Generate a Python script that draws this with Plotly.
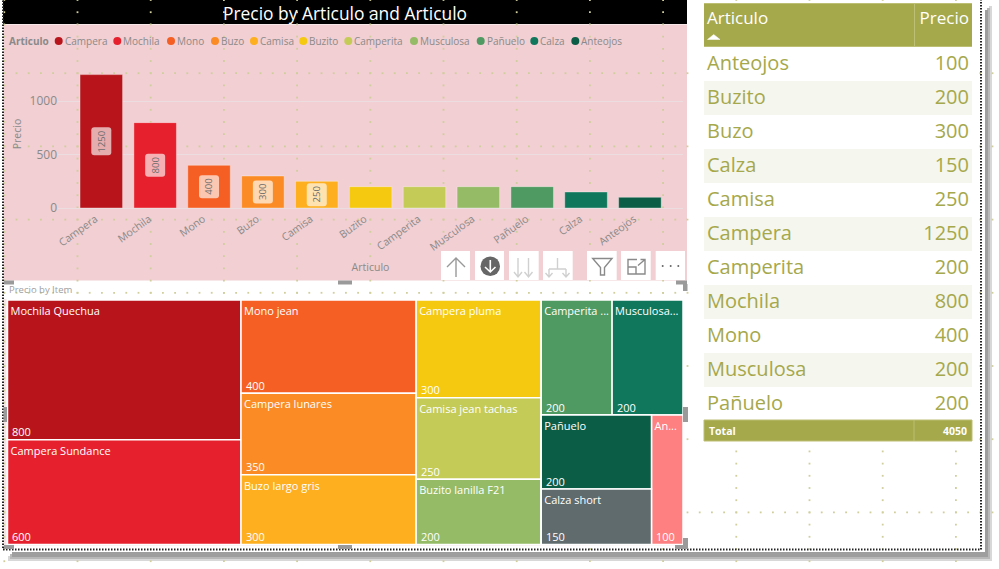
import plotly.graph_objects as go

# ---------- data ----------
ARTICULOS = ["Campera", "Mochila", "Mono", "Buzo", "Camisa", "Buzito", "Camperita",
             "Musculosa", "Pañuelo", "Calza", "Anteojos"]
PRECIOS = [1250, 800, 400, 300, 250, 200, 200, 200, 200, 150, 100]
BAR_COLORS = ["#B7151B", "#E6212D", "#F55F24", "#FB8C25", "#FDAF20", "#F4C90F", "#C4CB56",
              "#95BB66", "#4F9A62", "#10775C", "#0B5E45"]
LABELLED_BARS = 5

TABLE_ARTICULOS = ["Anteojos", "Buzito", "Buzo", "Calza", "Camisa", "Campera", "Camperita",
                   "Mochila", "Mono", "Musculosa", "Pañuelo"]
TABLE_PRECIOS = [100, 200, 300, 150, 250, 1250, 200, 800, 400, 200, 200]
TABLE_TOTAL = 4050

ITEM_LABELS = ["Mochila Quechua", "Campera Sundance", "Mono jean", "Campera lunares",
               "Buzo largo gris", "Campera pluma", "Camisa jean tachas", "Buzito lanilla F21",
               "Camperita ...", "Musculosa...", "Pañuelo", "Calza short", "An..."]
ITEM_VALUES = [800, 600, 400, 350, 300, 300, 250, 200, 200, 200, 200, 150, 100]
ITEM_COLORS = ["#B7151B", "#E6212D", "#F55F24", "#FB8C25", "#FDAF20", "#F4C90F", "#C4CB56",
               "#95BB66", "#4F9A62", "#10775C", "#0B5E45", "#5F6B6D", "#FF8080"]
# treemap arrangement: nested groups of item indexes (columns / rows / columns ...)
ITEM_TREE = [[0, 1], [2, 3, 4], [5, 6, 7], [[8, 9], [[10, 11], 12]]]

# ---------- style / layout constants ----------
W, H = 999, 569
FONT = "Open Sans"
OLIVE = "#A5A84B"
GREY = "#8A8A8A"
PINK = "#F2CFD2"
LEGEND_DOT_X = [58.7, 117.3, 171, 215, 254, 303.3, 348.3, 414, 480.7, 534.3, 575.3]
TM = (7.5, 683, 300, 544.5)


def fx(px):
    return px / W


def fy(px):
    return 1 - px / H


fig = go.Figure()

# background dot grid of the report canvas (pixel overlay axes x/y)
gx, gy = [], []
for i in range(14):
    for j in range(47):
        gx.append(4.3 + 73.2 * i)
        gy.append(12.2 * j)
for j in range(1, 8):
    for i in range(82):
        gx.append(4.3 + 12.2 * i)
        gy.append(73.2 * j)
fig.add_trace(go.Scatter(x=gx, y=gy, mode="markers", hoverinfo="skip", showlegend=False,
                         marker=dict(symbol="square", size=1.8, color="#CFCE9C"),
                         xaxis="x", yaxis="y"))

# legend dots
fig.add_trace(go.Scatter(x=LEGEND_DOT_X, y=[41] * len(LEGEND_DOT_X), mode="markers",
                         hoverinfo="skip", showlegend=False,
                         marker=dict(size=8, color=BAR_COLORS), xaxis="x", yaxis="y"))

# bars
fig.add_trace(go.Bar(x=ARTICULOS, y=PRECIOS, width=0.79, showlegend=False,
                     marker=dict(color=BAR_COLORS, line=dict(color="rgba(255,255,255,0.35)", width=1)),
                     xaxis="x2", yaxis="y2"))

# treemap built as a nested hierarchy
ids, parents, labels, values, colors = [], [], [], [], []
value_notes = []


def subtotal(node):
    return ITEM_VALUES[node] if isinstance(node, int) else sum(subtotal(n) for n in node)


def add_node(node, pid, path, box, horizontal):
    x0, x1, y0, y1 = box
    if isinstance(node, int):
        ids.append(f"item{node}")
        parents.append(pid)
        labels.append(ITEM_LABELS[node])
        values.append(ITEM_VALUES[node])
        colors.append(ITEM_COLORS[node])
        value_notes.append((x0, y1, ITEM_VALUES[node]))
        return
    nid = "g" + path
    ids.append(nid)
    parents.append(pid)
    labels.append(" ")
    values.append(subtotal(node))
    colors.append("#FFFFFF")
    tot = subtotal(node)
    pos = x0 if horizontal else y0
    for k, child in enumerate(node):
        frac = subtotal(child) / tot
        if horizontal:
            nxt = pos + (x1 - x0) * frac
            add_node(child, nid, f"{path}_{k}", (pos, nxt, y0, y1), False)
        else:
            nxt = pos + (y1 - y0) * frac
            add_node(child, nid, f"{path}_{k}", (x0, x1, pos, nxt), True)
        pos = nxt


add_node(ITEM_TREE, "", "r", TM, True)

fig.add_trace(go.Treemap(
    ids=ids, parents=parents, labels=labels, values=values, branchvalues="total",
    sort=False, textinfo="label", textposition="top left", hoverinfo="skip",
    tiling=dict(packing="slice-dice", pad=0),
    pathbar=dict(visible=False),
    marker=dict(colors=colors, line=dict(color="#FFFFFF", width=1.5), pad=dict(t=0, l=0, r=0, b=0)),
    textfont=dict(family=FONT, size=11, color="#FFFFFF"),
    domain=dict(x=[fx(TM[0]), fx(TM[1])], y=[fy(TM[3]), fy(TM[2])]),
))

# table
n_rows = len(TABLE_ARTICULOS)
row_fill = ["#FFFFFF" if i % 2 == 0 else "#F5F6EE" for i in range(n_rows)]
fig.add_trace(go.Table(
    columnwidth=[214, 62],
    header=dict(values=["Articulo", "Precio"], align=["left", "right"], height=43,
                fill=dict(color=OLIVE), line=dict(color="#BDBF74", width=1),
                font=dict(family=FONT, size=17, color="#FFFFFF")),
    cells=dict(values=[TABLE_ARTICULOS, TABLE_PRECIOS], align=["left", "right"], height=34,
               fill=dict(color=[row_fill, row_fill]), line=dict(width=0, color="rgba(0,0,0,0)"),
               font=dict(family=FONT, size=20, color=OLIVE)),
    domain=dict(x=[fx(699), fx(977)], y=[fy(426), fy(3.5)]),
))

# ---------- shapes ----------
shapes = []


def rect(x0, y0, x1, y1, fill, layer="below", line=None):
    shapes.append(dict(type="rect", xref="x", yref="y", x0=x0, y0=y0, x1=x1, y1=y1,
                       fillcolor=fill, layer=layer,
                       line=line or dict(width=0)))


def path(d, color="#999999", width=1.4, fill=None, layer="above"):
    shapes.append(dict(type="path", xref="x", yref="y", path=d, layer=layer,
                       line=dict(color=color, width=width),
                       fillcolor=fill or "rgba(0,0,0,0)"))


# drop shadow of the screenshot
for off, col in [(0, "#D8D8D8"), (2, "#B8B8B8"), (4, "#9E9E9E")]:
    rect(985 - off + 4, 6 + off, 992 - off, 561 - off, col)
    rect(8 + off, 552 + 4 - off, 992 - off, 561 - off, col)
rect(3, 0, 981, 550, "#FFFFFF")

rect(3, 0, 687, 24, "#000000")
rect(3.5, 24.5, 687, 280.5, PINK)
rect(3.5, 282, 687, 549, "#FFFFFF")
rect(3.5, 299, 684, 546, "#F7E4E4")

# frame
shapes.append(dict(type="rect", xref="x", yref="y", x0=3, y0=-4, x1=981, y1=549.5, layer="above",
                   line=dict(color="#222222", width=2, dash="1.5px,1.5px")))

# white covers to trim table's fixed cell padding
rect(698, 0, 704, 445, "#FFFFFF", layer="above")
rect(972, 0, 978, 445, "#FFFFFF", layer="above")
rect(704, 426, 972, 445, "#FFFFFF", layer="above")

# total row of the table
rect(704, 420, 972, 441, OLIVE, layer="above", line=dict(color="#BDBF74", width=1))
path("M914 420 L914 441", color="#BDBF74", width=1)

# selection handles
for h in [(4, 280.5, 14, 284.5), (338, 280.5, 352, 284.5), (676, 280.5, 687, 284.5),
          (683, 284, 687.5, 291), (3.5, 407, 7, 422), (683, 407, 688, 422),
          (338, 545, 352, 549), (4, 545, 14, 549), (675, 545, 688, 549), (683, 538, 688, 549)]:
    rect(*h, "#9A9A9A", layer="above")

# toolbar buttons
for x0, x1 in [(441, 470), (475, 504), (509, 538.7), (543, 572.7), (587, 616.7), (621, 650.7), (655.7, 685)]:
    rect(x0, 251, x1, 280, "#FFFFFF", layer="above")
# drill up
path("M456 277 L456 258 M447 267 L456 258 L465 267")
# drill down (active)
shapes.append(dict(type="circle", xref="x", yref="y", x0=480.5, y0=256.5, x1=500, y1=276,
                   fillcolor="#666666", line=dict(width=0), layer="above"))
path("M490.3 260 L490.3 272 M485 267 L490.3 272 L495.5 267", color="#FFFFFF", width=1.6)
# next level
path("M518 258 L518 277 M514 272 L518 277 L522 272 M528.5 258 L528.5 277 M524.5 272 L528.5 277 L532.5 272",
     color="#D0D0D0")
# expand
path("M557.5 258 L557.5 269 M549 269 L566 269 M549 269 L549 277 M566 269 L566 277 "
     "M545.5 273 L549 277 L552.5 273 M562.5 273 L566 277 L569.5 273", color="#D0D0D0")
# filter
path("M592.7 258.5 L612 258.5 L604.5 267.5 L604.5 275 L600.5 275 L600.5 267.5 Z", color="#8A8A8A")
# focus
path("M637 259.5 L628 259.5 L628 274 L645 274 L645 264 M628 267 L636 267 L636 274 M638 265.5 L645 259.5 M640.5 259.5 L645 259.5 L645 264",
     color="#8A8A8A")
# more
for cx in (662.7, 670.7, 678.3):
    shapes.append(dict(type="circle", xref="x", yref="y", x0=cx - 1, y0=265, x1=cx + 1, y1=267,
                       fillcolor="#666666", line=dict(width=0), layer="above"))
# sort caret
path("M707.5 39.5 L720 39.5 L713.7 34.5 Z", color="#FFFFFF", width=0.5, fill="#FFFFFF")

# rounded label badges centred on each labelled bar
for i in range(LABELLED_BARS):
    hw, hh = 10, (14 if PRECIOS[i] >= 1000 else 11.5)
    r = 3
    shapes.append(dict(
        type="path", xref="x2", yref="y2", xsizemode="pixel", ysizemode="pixel",
        xanchor=i, yanchor=PRECIOS[i] / 2, layer="above",
        path=(f"M{-hw + r} {-hh} L{hw - r} {-hh} Q{hw} {-hh} {hw} {-hh + r} L{hw} {hh - r} Q{hw} {hh} {hw - r} {hh} "
              f"L{-hw + r} {hh} Q{-hw} {hh} {-hw} {hh - r} L{-hw} {-hh + r} Q{-hw} {-hh} {-hw + r} {-hh} Z"),
        fillcolor="rgba(255,255,255,0.65)", line=dict(width=0)))

# ---------- annotations ----------
ann = []


def note(x, y, text, size=11, color=GREY, anchor="left", **kw):
    ann.append(dict(x=x, y=y, xref="x", yref="y", text=text, showarrow=False, xanchor=anchor,
                    yanchor="middle", font=dict(family=FONT, size=size, color=color), borderpad=0, **kw))


note(345, 12.5, "Precio by Articulo and Articulo", size=17.4, color="#FFFFFF", anchor="center")
note(8, 41, "<b>Articulo</b>", size=10)
for dot, name in zip(LEGEND_DOT_X, ARTICULOS):
    note(dot + 5, 41, name, size=10)
note(8, 289, "Precio by Item", size=9.5, color="#A0A0A0")

for x0, y1, v in value_notes:
    note(x0 + 3.5, y1 - 8, str(v), size=11, color="#FFFFFF")

note(707.5, 431, "<b>Total</b>", size=10.5, color="#FFFFFF")
note(968, 431, f"<b>{TABLE_TOTAL}</b>", size=10.5, color="#FFFFFF", anchor="right")

for i in range(LABELLED_BARS):
    ann.append(dict(x=i, y=PRECIOS[i] / 2, xref="x2", yref="y2", text=str(PRECIOS[i]), textangle=-90,
                    showarrow=False, font=dict(family=FONT, size=9.5, color="#6E6E6E")))

# ---------- layout ----------
fig.update_layout(
    width=W, height=H, autosize=False, margin=dict(l=0, r=0, t=0, b=0, pad=0, autoexpand=False),
    paper_bgcolor="#FFFFFF", plot_bgcolor="rgba(0,0,0,0)", showlegend=False,
    font=dict(family=FONT),
    shapes=shapes, annotations=ann, hovermode=False,
    xaxis=dict(domain=[0, 1], range=[0, W], visible=False, fixedrange=True),
    yaxis=dict(domain=[0, 1], range=[H, 0], visible=False, fixedrange=True),
    xaxis2=dict(domain=[fx(58), fx(683)], range=[-0.804, 10.80], anchor="y2", type="category",
                categoryorder="array", categoryarray=ARTICULOS, tickangle=-36, showgrid=False,
                ticks="", showline=False, zeroline=False, fixedrange=True, automargin=False,
                ticklabelshift=-6, ticklabelstandoff=2,
                tickfont=dict(family=FONT, size=10.5, color=GREY),
                title=dict(text="Articulo", font=dict(family=FONT, size=10.5, color=GREY), standoff=11)),
    yaxis2=dict(domain=[fy(208), fy(60)], range=[0, 1387], anchor="x2", tickvals=[0, 500, 1000],
                showgrid=True, gridcolor="#EBDDE0", gridwidth=1, zeroline=True, zerolinecolor="#EBDDE0",
                zerolinewidth=1, ticks="", showline=False, fixedrange=True, automargin=False,
                tickfont=dict(family=FONT, size=12, color=GREY),
                title=dict(text="Precio", font=dict(family=FONT, size=10.5, color=GREY), standoff=5)),
)

fig.write_html("out.html", config=dict(displayModeBar=False, responsive=False),
               default_width=f"{W}px", default_height=f"{H}px",
               post_script="document.body.style.margin='0';document.body.style.overflow='hidden';")
